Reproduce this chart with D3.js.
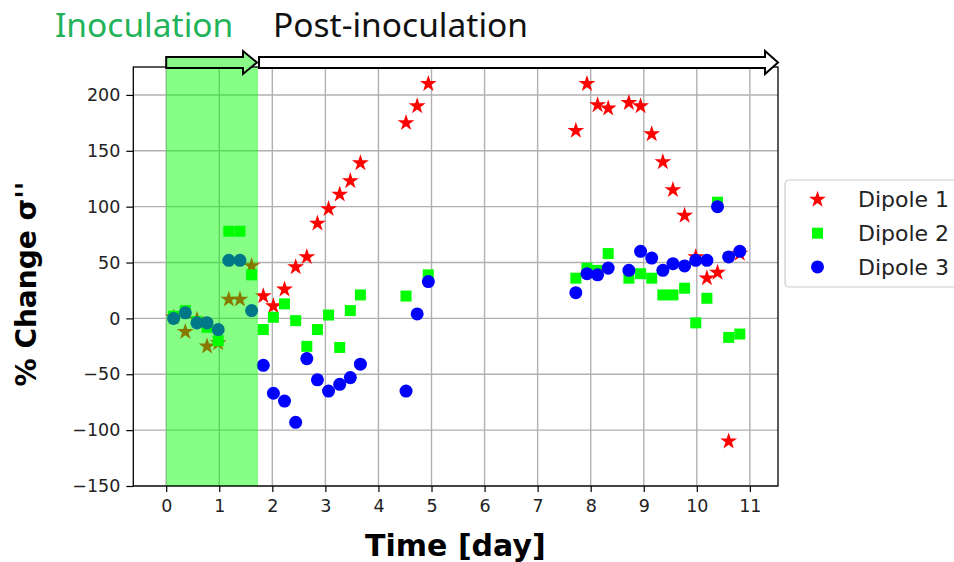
<!doctype html>
<html lang="en">
<head>
    <meta charset="utf-8">
    <title>% Change sigma'' vs time</title>
    <script src="https://cdn.jsdelivr.net/npm/d3@7"></script>
    <style>
      body { margin: 0; background: #fff; }
      svg { display: block; }
      .tick text { font-family: "DejaVu Sans", sans-serif; font-size: 17.5px; fill: #222; }
      .grid line { stroke: #b0b0b0; stroke-width: 1.4; }
    </style>
</head>
<body>
<div class="chart"></div>
<script>
  // measurement times (day) shared by the three dipoles
  const days = [0.14, 0.36, 0.58, 0.77, 0.98, 1.18, 1.39, 1.61, 1.83, 2.02, 2.23, 2.44, 2.65, 2.85, 3.06, 3.27, 3.47, 3.66,
    4.52, 4.73, 4.94, 7.72, 7.93, 8.13, 8.33, 8.72, 8.94, 9.15, 9.36, 9.55, 9.77, 9.98, 10.19, 10.39, 10.6, 10.81];

  const dipole1 = [1, -12, -1, -25, -22, 17, 17, 47, 20, 11, 26, 46, 55, 85, 98, 111, 123, 139,
    175, 190, 210, 168, 210, 191, 188, 193, 190, 165, 140, 115, 92, 55, 36, 41, -110, 58];
  const dipole2 = [2, 7, -3, -8, -20, 78, 78, 39, -10, 1, 13, -2, -25, -10, 3, -26, 7, 21,
    20, null, 39, 36, 45, 43, 58, 36, 40, 36, 21, 21, 27, -4, 18, 104, -17, -14];
  const dipole3 = [0, 5, -4, -4, -10, 52, 52, 7, -42, -67, -74, -93, -36, -55, -65, -59, -53, -41,
    -65, 4, 33, 23, 40, 39, 45, 43, 60, 54, 43, 49, 47, 52, 52, 100, 55, 60];

  const seriesNames = ['Dipole 1', 'Dipole 2', 'Dipole 3'];
  const seriesColors = ['#ff0000', '#00ff00', '#0000ff'];
  const seriesSymbols = [d3.symbolStar, d3.symbolSquare, d3.symbolCircle];
  const seriesSizes = [88, 121, 133];

  const xTicks = d3.range(0, 12);
  const yTicks = [-150, -100, -50, 0, 50, 100, 150, 200];
  const inoculationEnd = 1.73; // shaded inoculation period, days

  const width = 954, height = 562;
  const plot = {left: 133.3, right: 778, top: 67, bottom: 486};

  const x = d3.scaleLinear().domain([-0.62, 11.53]).range([plot.left, plot.right]);
  const y = d3.scaleLinear().domain([-150, 225]).range([plot.bottom, plot.top]);

  const svg = d3.select('.chart').append('svg')
    .attr('width', width)
    .attr('height', height);

  // grid
  svg.append('g').attr('class', 'grid')
    .selectAll('line.gx').data(xTicks).join('line')
    .attr('x1', d => x(d)).attr('x2', d => x(d))
    .attr('y1', plot.top).attr('y2', plot.bottom);
  svg.append('g').attr('class', 'grid')
    .selectAll('line.gy').data(yTicks).join('line')
    .attr('x1', plot.left).attr('x2', plot.right)
    .attr('y1', d => y(d)).attr('y2', d => y(d));

  const series = [dipole1, dipole2, dipole3].map((vals, i) => ({
    name: seriesNames[i],
    color: seriesColors[i],
    symbol: d3.symbol(seriesSymbols[i], seriesSizes[i]),
    points: vals.map((v, j) => ({day: days[j], value: v})).filter(p => p.value !== null)
  }));

  const markers = svg.append('g');
  series.forEach(s => {
    markers.append('g')
      .selectAll('path').data(s.points).join('path')
      .attr('transform', d => `translate(${x(d.day)},${y(d.value)})`)
      .attr('d', s.symbol())
      .attr('fill', s.color);
  });

  // inoculation band sits over the markers (tints them)
  svg.append('rect')
    .attr('x', x(0)).attr('width', x(inoculationEnd) - x(0))
    .attr('y', plot.top).attr('height', plot.bottom - plot.top)
    .attr('fill', '#00ff00')
    .attr('fill-opacity', 0.47);

  // axes
  svg.append('g')
    .attr('transform', `translate(0,${plot.bottom})`)
    .call(d3.axisBottom(x).tickValues(xTicks).tickSize(6).tickPadding(8).tickFormat(d3.format('d')))
    .call(g => g.select('.domain').remove())
    .call(g => g.selectAll('.tick line').attr('stroke', '#000').attr('stroke-width', 1.2));

  svg.append('g')
    .attr('transform', `translate(${plot.left},0)`)
    .call(d3.axisLeft(y).tickValues(yTicks).tickSize(7).tickPadding(6)
      .tickFormat(d => d < 0 ? '\u2212' + Math.abs(d) : d))
    .call(g => g.select('.domain').remove())
    .call(g => g.selectAll('.tick line').attr('stroke', '#000').attr('stroke-width', 1.2));

  svg.append('rect')
    .attr('x', plot.left).attr('y', plot.top)
    .attr('width', plot.right - plot.left).attr('height', plot.bottom - plot.top)
    .attr('fill', 'none').attr('stroke', '#000').attr('stroke-width', 1.3);

  // axis titles
  svg.append('text')
    .attr('x', x(5.45)).attr('y', 556)
    .attr('text-anchor', 'middle')
    .style('font-family', '"DejaVu Sans", sans-serif')
    .style('font-weight', 'bold').style('font-size', '30px')
    .text('Time [day]');

  svg.append('text')
    .attr('transform', `translate(36,284) rotate(-90)`)
    .attr('text-anchor', 'middle')
    .style('font-family', '"DejaVu Sans", sans-serif')
    .style('font-weight', 'bold').style('font-size', '28px')
    .text('% Change \u03c3\'\'');

  // phase arrows above the plot
  const arrow = (x0, x1, headLen, fill) => {
    const cy = 62.5, bh = 5.5, hh = 11.5;
    const p = d3.path();
    p.moveTo(x0, cy - bh);
    p.lineTo(x1 - headLen, cy - bh);
    p.lineTo(x1 - headLen, cy - hh);
    p.lineTo(x1, cy);
    p.lineTo(x1 - headLen, cy + hh);
    p.lineTo(x1 - headLen, cy + bh);
    p.lineTo(x0, cy + bh);
    p.closePath();
    svg.append('path')
      .attr('d', p.toString())
      .attr('fill', fill)
      .attr('stroke', '#000')
      .attr('stroke-width', 2)
      .attr('stroke-linejoin', 'miter');
  };
  arrow(x(0), x(inoculationEnd) - 1, 14, '#88f888');
  arrow(x(inoculationEnd) + 1, x(11.53), 13, '#fff');

  const phaseFont = '"Noto Sans", "Open Sans", sans-serif';
  svg.append('text')
    .attr('x', 55).attr('y', 37)
    .style('font-family', phaseFont).style('font-size', '33.5px')
    .attr('fill', '#22b35a')
    .text('Inoculation');
  svg.append('text')
    .attr('x', 273).attr('y', 37)
    .style('font-family', phaseFont).style('font-size', '33.5px')
    .attr('fill', '#111')
    .text('Post-inoculation');

  // legend
  const legend = svg.append('g').attr('transform', 'translate(785,180)');
  legend.append('rect')
    .attr('width', 200).attr('height', 107)
    .attr('rx', 4)
    .attr('fill', '#fff')
    .attr('stroke', '#cccccc')
    .attr('stroke-width', 1.2);

  const item = legend.selectAll('g.item').data(series).join('g')
    .attr('class', 'item')
    .attr('transform', (d, i) => `translate(0,${19.5 + i * 33.7})`);
  item.append('path')
    .attr('transform', 'translate(32.5,0)')
    .attr('d', d => d.symbol())
    .attr('fill', d => d.color);
  item.append('text')
    .attr('x', 73).attr('dy', '0.35em')
    .style('font-family', '"DejaVu Sans", sans-serif').style('font-size', '22px')
    .attr('fill', '#222')
    .text(d => d.name);
</script>
</body>
</html>
